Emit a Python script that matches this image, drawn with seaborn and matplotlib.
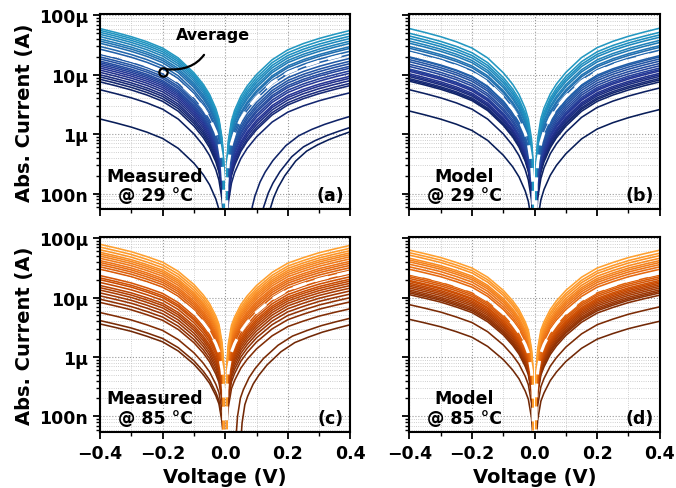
import numpy as np
import pandas as pd
import matplotlib
matplotlib.use("Agg")
import matplotlib.pyplot as plt
import seaborn as sns
from matplotlib.ticker import LogLocator, MultipleLocator, NullFormatter

# one branch of the sweep (0.4 V -> 0 V) and the normalised |I|
v_branch = [0.4, 0.35, 0.3, 0.25, 0.2, 0.15, 0.1, 0.07, 0.05, 0.03, 0.02, 0.01, 0.005, 0.0]
shape_29 = [1.0, 0.86, 0.73, 0.6, 0.47, 0.32, 0.18, 0.115, 0.078, 0.045, 0.03, 0.014, 0.006, 0.0]
shape_85 = [1.0, 0.87, 0.75, 0.62, 0.5, 0.35, 0.21, 0.14, 0.1, 0.062, 0.045, 0.022, 0.01, 0.0]

# |I| in uA of every device at -0.4 V and +0.4 V
meas29_neg = [60, 56, 52, 48, 44, 40, 37, 34, 30, 27, 22, 20, 18.5, 17, 16, 15, 14, 13, 12, 11,
              10, 9.2, 8.4, 7.6, 5.6, 1.8]
meas29_pos = [56, 50, 45, 41, 37, 34, 30, 28, 25, 22, 19, 17, 15.5, 14, 13, 11.7, 10.7, 9.5, 8.8, 8.0,
              7.2, 6.6, 5.0, 2.0, 1.3, 1.1]
model29_neg = [60, 50, 45, 41, 37, 34, 30, 28, 25, 20, 19.5, 18, 16.6, 15, 13.8, 12.5, 12, 11.4, 10.4,
               9.8, 9.3, 8.6, 8.2, 7.8, 5.6, 2.45]
model29_pos = [61, 52, 47, 43, 38, 35, 31, 29, 26, 21, 20, 18.5, 17, 15.5, 14.2, 13, 12.2, 11.6, 10.6,
               10, 9.4, 8.7, 8.2, 7.6, 6.0, 2.6]
meas85_neg = [79, 71, 64, 58, 54, 50, 46, 42, 39, 36, 33, 30, 23.5, 21.5, 20, 18, 16, 14.7, 13.4, 12,
              10.7, 9.4, 8.3, 5.6, 4.1, 3.6]
meas85_pos = [76, 68, 62, 57, 53, 49, 45, 41, 38, 35, 32, 29, 25, 22.5, 20.5, 19, 17.5, 16, 14.5, 13,
              11.5, 10, 8.5, 6.5, 4.5, 3.5]
model85_neg = [63, 57, 52, 46, 43, 40, 36.5, 33, 30, 24, 22.5, 21, 19.5, 18.7, 17.5, 16.5, 15.5, 14.5,
               13.5, 12.7, 12, 11.2, 7.6, 4.3]
model85_pos = [63, 56, 51, 46, 42, 39, 36, 33, 30, 24, 22.5, 21, 19.5, 18.5, 17.5, 16.5, 15.5, 14.5,
               13.5, 12.7, 12, 11, 7.0, 4.0]

# measured devices whose current crosses zero at a positive voltage (index -> V)
meas29_zero = {23: 0.07, 24: 0.1, 25: 0.12}
meas85_zero = {24: 0.03, 25: 0.045}

# average curve level (uA) at -0.4 V / +0.4 V
avg_levels = [[24, 23], [23, 24], [27, 27], [26, 26]]

panel_names = ["Measured\n@ 29 °C", "Model\n@ 29 °C", "Measured\n@ 85 °C", "Model\n@ 85 °C"]
panel_tags = ["(a)", "(b)", "(c)", "(d)"]
ytick_values = [1e-7, 1e-6, 1e-5, 1e-4]
ytick_labels = ["100n", "1µ", "10µ", "100µ"]
xtick_values = [-0.4, -0.2, 0.0, 0.2, 0.4]
xtick_labels = ["\u22120.4", "\u22120.2", "0.0", "0.2", "0.4"]

sns.set_theme(style="ticks")
plt.rcParams["font.family"] = ["DejaVu Sans"]
plt.rcParams["font.weight"] = "bold"
plt.rcParams["axes.labelweight"] = "bold"
plt.rcParams["text.color"] = "black"
plt.rcParams["axes.labelcolor"] = "black"
plt.rcParams["xtick.color"] = "black"
plt.rcParams["ytick.color"] = "black"


def sweep(neg, pos, shape, v0=0.0):
    v = np.array(v_branch)
    s = np.array(shape)
    right_v = v0 + v[::-1] * (0.4 - v0) / 0.4
    volts = np.concatenate([-v, right_v])
    amps = np.concatenate([neg * 1e-6 * s, pos * 1e-6 * s[::-1]])
    return volts, amps


def draw_panel(ax, neg, pos, avg, shape, zero, cmap_name, c_lo, c_hi):
    rows = []
    for i, (n, p) in enumerate(zip(neg, pos)):
        volts, amps = sweep(n, p, shape, zero.get(i, 0.0))
        rows.append(pd.DataFrame({"V": volts, "I": amps, "curve": i}))
    df = pd.concat(rows)
    cmap = sns.color_palette(cmap_name, as_cmap=True)
    pal = {i: cmap(c) for i, c in enumerate(np.linspace(c_lo, c_hi, len(neg)))}
    order = list(range(len(neg)))[::-1]  # darkest (lowest) drawn first
    sns.lineplot(data=df, x="V", y="I", hue="curve", hue_order=order, palette=pal,
                 estimator=None, sort=False, legend=False, lw=1.15, ax=ax)
    va, ia = sweep(avg[0], avg[1], shape)
    ax.plot(va, ia, color="white", lw=2.2, dashes=(4.5, 3))


fig, axes = plt.subplots(2, 2, figsize=(6.76, 4.89), dpi=100, sharex=True, sharey=True)
fig.subplots_adjust(left=0.148, right=0.976, top=0.969, bottom=0.115, wspace=0.236, hspace=0.144)

panels = [
    (meas29_neg, meas29_pos, shape_29, meas29_zero, "YlGnBu", 0.6, 1.0),
    (model29_neg, model29_pos, shape_29, {}, "YlGnBu", 0.6, 1.0),
    (meas85_neg, meas85_pos, shape_85, meas85_zero, "YlOrBr", 0.48, 0.97),
    (model85_neg, model85_pos, shape_85, {}, "YlOrBr", 0.48, 0.97),
]

for k, ax in enumerate(axes.flat):
    neg, pos, shape, zero, cm, lo, hi = panels[k]
    draw_panel(ax, np.array(neg), np.array(pos), avg_levels[k], shape, zero, cm, lo, hi)
    ax.set_yscale("log")
    ax.set_xlim(-0.4, 0.4)
    ax.set_ylim(5.5e-8, 1.05e-4)
    ax.set_yticks(ytick_values)
    ax.set_yticklabels(ytick_labels)
    ax.yaxis.set_minor_locator(LogLocator(base=10, subs=np.arange(2, 10), numticks=20))
    ax.yaxis.set_minor_formatter(NullFormatter())
    ax.set_xticks(xtick_values)
    ax.set_xticklabels(xtick_labels)
    ax.xaxis.set_minor_locator(MultipleLocator(0.1))
    ax.grid(True, which="major", ls=":", lw=0.8, color="#9a9a9a")
    ax.grid(True, which="minor", ls=":", lw=0.6, color="#c0c0c0")
    ax.tick_params(which="major", direction="out", length=5, width=1.3, labelsize=12.5, color="black")
    ax.tick_params(which="minor", direction="out", length=3, width=1.0, color="black")
    for sp in ax.spines.values():
        sp.set_color("black")
        sp.set_linewidth(1.5)
    ax.set_xlabel("")
    ax.set_ylabel("")
    ax.text(0.22, 0.025, panel_names[k], transform=ax.transAxes, ha="center", va="bottom",
            fontsize=12.5, fontweight="bold", multialignment="center", linespacing=1.1)
    ax.text(0.975, 0.025, panel_tags[k], transform=ax.transAxes, ha="right", va="bottom",
            fontsize=12.5, fontweight="bold")

for ax in axes[:, 0]:
    ax.set_ylabel("Abs. Current (A)", fontsize=14, fontweight="bold")
for ax in axes[1, :]:
    ax.set_xlabel("Voltage (V)", fontsize=14, fontweight="bold")

# "Average" callout in panel (a)
ax = axes[0, 0]
ax.plot([-0.2], [1.13e-5], marker="o", ms=6, mfc="none", mec="black", mew=1.6)
ax.annotate("Average", xy=(-0.195, 1.25e-5), xytext=(-0.04, 4.8e-5), ha="center", va="center",
            fontsize=11.5, fontweight="bold",
            arrowprops=dict(arrowstyle="-", color="black", lw=1.6, shrinkA=8, shrinkB=2,
                            connectionstyle="arc3,rad=-0.45"))

plt.savefig("out.png", dpi=100)
